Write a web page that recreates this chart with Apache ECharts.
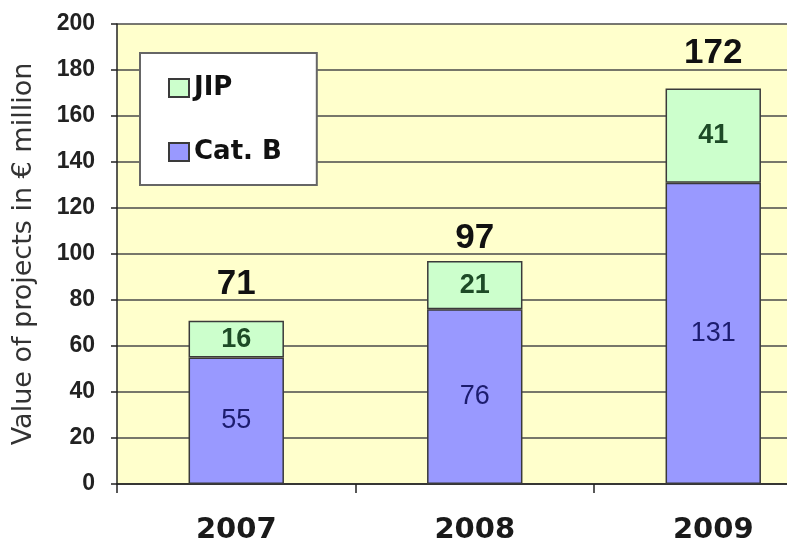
<!DOCTYPE html>
<html>
<head>
<meta charset="utf-8">
<script src="https://cdn.jsdelivr.net/npm/echarts@6/dist/echarts.min.js"></script>
<style>
  html, body { margin: 0; padding: 0; background: #fff; }
  #chart { width: 787px; height: 546px; }
</style>
</head>
<body>
<div id="chart"></div>
<script>
const years = ['2007', '2008', '2009']
const catB = [55, 76, 131]
const jip = [16, 21, 41]
const totals = [71, 97, 172]
const yTicks = [0, 20, 40, 60, 80, 100, 120, 140, 160, 180, 200]

// gap between bar top and total label, px (reads uneven in the original)
const totalGap = [19, 5, 18]

const chart = echarts.init(document.getElementById('chart'))

const barBorder = { borderColor: '#3a3a3a', borderWidth: 1.5 }

chart.setOption({
  animation: false,
  grid: {
    left: 117,
    top: 24,
    right: -45.5,   // last category runs past the picture edge
    bottom: 62,
    outerBoundsMode: 'none',
    show: true,
    backgroundColor: '#FFFFCC',
    borderWidth: 0,
  },
  legend: {
    data: ['JIP', 'Cat. B'],
    orient: 'vertical',
    left: 140,
    top: 53,
    padding: [22, 35, 20, 28],
    itemGap: 38,
    itemWidth: 20,
    itemHeight: 18,
    icon: 'rect',
    backgroundColor: '#fff',
    borderColor: '#666',
    borderWidth: 2,
    textStyle: {
      fontFamily: 'DejaVu Sans',
      fontWeight: 'bold',
      fontSize: 26,
      color: '#111',
      lineHeight: 26,
    },
  },
  xAxis: {
    type: 'category',
    data: years,
    axisLine: { lineStyle: { color: '#222', width: 1.5 } },
    axisTick: { show: true, length: 9, lineStyle: { color: '#222', width: 1.5 } },
    axisLabel: {
      margin: 32,
      fontFamily: 'DejaVu Sans',
      fontWeight: 'bold',
      fontSize: 29,
      color: '#1a1a1a',
    },
  },
  yAxis: {
    type: 'value',
    min: yTicks[0],
    max: yTicks[yTicks.length - 1],
    interval: 20,
    name: 'Value of projects in € million',
    nameLocation: 'middle',
    nameGap: 80,
    nameTextStyle: {
      fontFamily: 'DejaVu Sans',
      fontSize: 27,
      color: '#333',
    },
    axisLine: { show: true, lineStyle: { color: '#222', width: 1.5 } },
    axisTick: { show: true, length: 6, lineStyle: { color: '#222', width: 1.5 } },
    axisLabel: {
      margin: 22,
      fontFamily: 'Liberation Sans',
      fontWeight: 'bold',
      fontSize: 23,
      color: '#222',
    },
    splitLine: { lineStyle: { color: '#4a4a4a', width: 1.5 } },
  },
  series: [
    {
      name: 'Cat. B',
      type: 'bar',
      stack: 'v',
      barWidth: '40%',
      data: catB,
      itemStyle: { color: '#9999FF', ...barBorder },
      label: {
        show: true,
        position: 'inside',
        fontFamily: 'Liberation Sans',
        fontSize: 27,
        color: '#1c1c6e',
      },
    },
    {
      name: 'JIP',
      type: 'bar',
      stack: 'v',
      barWidth: '40%',
      data: jip,
      itemStyle: { color: '#CCFFCC', ...barBorder },
      label: {
        show: true,
        position: 'inside',
        fontFamily: 'Liberation Sans',
        fontWeight: 'bold',
        fontSize: 27,
        color: '#1d4a26',
      },
    },
    {
      name: 'Total',
      type: 'bar',
      stack: 'v',
      barWidth: '40%',
      data: totals.map((t, i) => ({ value: 0, label: { distance: totalGap[i] } })),
      itemStyle: { color: 'transparent', borderWidth: 0 },
      label: {
        show: true,
        position: 'top',
        formatter: (p) => String(totals[p.dataIndex]),
        fontFamily: 'Liberation Sans',
        fontWeight: 'bold',
        fontSize: 35,
        color: '#111',
      },
    },
  ],
})
</script>
</body>
</html>
